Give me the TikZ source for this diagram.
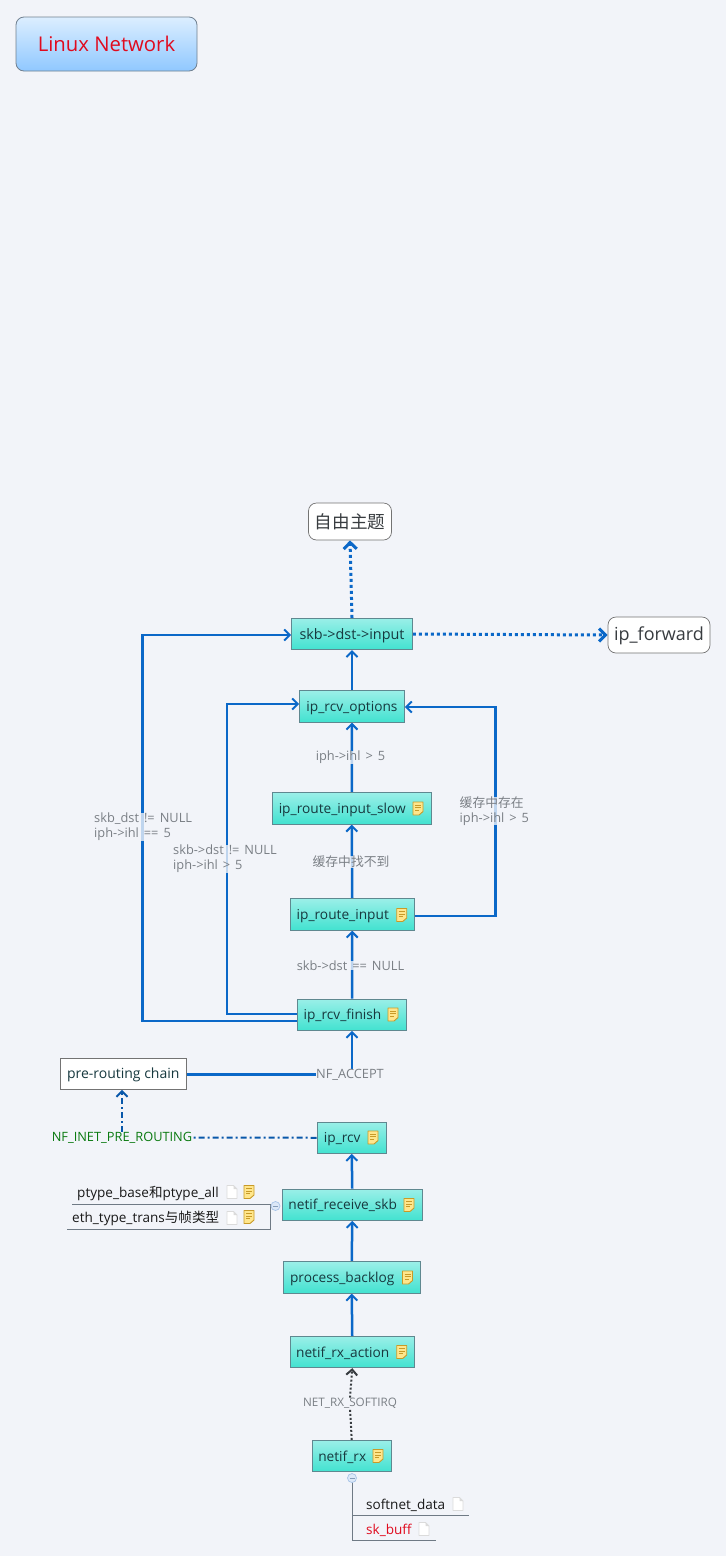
\documentclass[tikz,border=0pt]{standalone}
\usepackage{fontspec}
\setmainfont{Open Sans}
\newfontfamily\cjk{Noto Sans CJK SC}
\newfontfamily\labf[WordSpace=1.5]{Open Sans}
\usetikzlibrary{arrows.meta,backgrounds}
\definecolor{bgc}{HTML}{F2F4F9}
\definecolor{flow}{HTML}{0B68C8}
\definecolor{edgec}{HTML}{5F8890}
\definecolor{txt}{HTML}{17393F}
\definecolor{lab}{HTML}{7A7F85}
\definecolor{dark}{HTML}{383C40}
\definecolor{ruleg}{HTML}{6F7A85}
\definecolor{nfgreen}{HTML}{0A7A10}
\definecolor{redt}{HTML}{E00A1E}
\definecolor{teala}{HTML}{9AEFE8}
\definecolor{tealc}{HTML}{42E2D0}
\definecolor{titlea}{HTML}{DCEEFF}
\definecolor{titleb}{HTML}{90C8FF}
\definecolor{titlee}{HTML}{708090}
\definecolor{notef}{HTML}{FFE68C}
\definecolor{noted}{HTML}{C89A28}
\definecolor{minusf}{HTML}{DCE8F8}
\definecolor{minusd}{HTML}{A8C4E8}
\tikzset{
  topic/.style={draw=edgec,line width=.8pt,top color=teala,bottom color=tealc,rectangle,inner sep=0pt,text=txt,font=\fontsize{13.7}{16}\selectfont,minimum height=31.5pt,text height=11.5pt,text depth=1.5pt},
  free/.style={draw=black!55,line width=.7pt,fill=white,rounded corners=8pt,inner sep=0pt,text=dark},
  lbl/.style={fill=bgc,fill opacity=.78,text opacity=1,text=lab,inner sep=0pt,font=\labf\fontsize{12.8}{15}\selectfont,align=left},
  subt/.style={inner sep=0pt,text=black!90,font=\fontsize{13.55}{16}\selectfont,anchor=base west},
  flowl/.style={draw=flow,line width=2.5pt,line join=miter},
  arr/.style={-{Straight Barb[length=5.5pt,width=11pt,line width=2pt]}},
  arrb/.style={-{Straight Barb[length=6.5pt,width=13pt,line width=3pt]}},
  doted/.style={draw=flow,line width=3pt,dash pattern=on 3pt off 3pt},
  dashdot/.style={draw=flow!85!black,line width=2pt,dash pattern=on 6pt off 3pt on 2pt off 3pt},
  softl/.style={draw=dark,line width=2pt,dash pattern=on 2pt off 2pt},
  rulel/.style={draw=ruleg,line width=.9pt},
  noteicon/.pic={
    \filldraw[draw=noted,fill=notef,line width=.9pt,line join=round]
      (-5,-6.5) -- (5,-6.5) -- (5,3) -- (1,6.5) -- (-5,6.5) -- cycle;
    \draw[noted,line width=.8pt] (-3,-3.5) -- (3,-3.5) (-3,-1) -- (3,-1) (-3,1.5) -- (1,1.5);
  },
  docicon/.pic={
    \filldraw[draw=black!14,fill=white,line width=.9pt,line join=round]
      (-5,-6.5) -- (1.5,-6.5) -- (5,-3) -- (5,6.5) -- (-5,6.5) -- cycle;
    \fill[black!14] (1.5,-6.5) -- (5,-3) -- (1.5,-3) -- cycle;
  },
  minusicon/.pic={
    \filldraw[draw=minusd,fill=minusf,line width=.7pt] (0,0) circle (4.5);
    \draw[minusd!80!black,line width=.8pt] (-2.5,0) -- (2.5,0);
  }
}
\begin{document}
\begin{tikzpicture}[x=1pt,y=-1pt]
\useasboundingbox (0,0) rectangle (726,1556);
\begin{scope}[on background layer]
\fill[bgc] (0,0) rectangle (726,1556);
\end{scope}

% title
\node[draw=titlee,line width=.8pt,rounded corners=8pt,top color=titlea,bottom color=titleb,minimum width=181pt,minimum height=54pt,inner sep=0pt,text=redt,font=\fontsize{20.3}{22}\selectfont] (title) at (106.5,44) {Linux Network};

% free topics
\node[free,minimum width=83pt,minimum height=37pt,font=\fontsize{17.6}{20}\selectfont] (free1) at (350,521.5) {\cjk 自由主题};
\node[free,minimum width=102pt,minimum height=36pt,font=\fontsize{18}{20}\selectfont,text height=13pt,text depth=3pt] (forward) at (659,635) {ip\_forward};

% main topics
\node[topic,minimum width=121pt,font=\fontsize{14.4}{16}\selectfont] (input) at (352,634) {skb->dst->input};
\node[topic,minimum width=105pt] (options) at (352,706.5) {ip\_rcv\_options};
\node[topic,minimum width=159.5pt] (slow) at (351.75,808.5) {ip\_route\_input\_slow\kern19pt};
\node[topic,minimum width=124.5pt] (route) at (352.25,914.5) {ip\_route\_input\kern19pt};
\node[topic,minimum width=109pt] (finish) at (352,1014.75) {ip\_rcv\_finish\kern19pt};
\node[draw=black!55,line width=.8pt,fill=white,inner sep=0pt,text=txt,font=\fontsize{14}{16}\selectfont,minimum width=126.5pt,minimum height=31.5pt,text height=11.5pt,text depth=1.5pt] (chain) at (123.25,1073.75) {pre-routing chain};
\node[topic,minimum width=69.5pt] (rcv) at (351.75,1137.75) {ip\_rcv\kern19pt};
\node[topic,minimum width=140.5pt] (receive) at (352.25,1204.75) {netif\_receive\_skb\kern19pt};
\node[topic,minimum width=137.5pt] (backlog) at (351.75,1277.5) {process\_backlog\kern19pt};
\node[topic,minimum width=124.5pt] (action) at (352.25,1352) {netif\_rx\_action\kern19pt};
\node[topic,minimum width=79.5pt] (rx) at (351.75,1456) {netif\_rx\kern19pt};

% note icons
\foreach \nx/\ny in {418/808.5,401.7/915,393/1014.5,373/1137.5,409/1205,407.5/1277.5,401.7/1352,378/1456,249/1192,249/1217}
  \pic at (\nx,\ny) {noteicon};
\foreach \nx/\ny in {232/1192,232/1218,458/1504,424/1529}
  \pic at (\nx,\ny) {docicon};

% labels
\node[lbl] (l1) at (350.5,757.5) {iph->ihl > 5};
\node[lbl] (l2) at (351,862) {\cjk 缓存中找不到};
\node[lbl] (l3) at (350.5,965.5) {skb->dst == NULL};
\node[lbl,anchor=west] (l4) at (94,827) {skb\_dst != NULL\\iph->ihl == 5};
\node[lbl,anchor=west] (l5) at (173,859) {skb->dst != NULL\\iph->ihl > 5};
\node[lbl,anchor=west] (l6) at (459.5,811) {{\cjk 缓存中存在}\\iph->ihl > 5};
\node[lbl,fill=none] (accept) at (350,1074.5) {NF\_ACCEPT};
\node[lbl,fill=none,text=nfgreen] (prer) at (122,1137.5) {NF\_INET\_PRE\_ROUTING};
\node[lbl,fill=none,font=\labf\fontsize{11.7}{15}\selectfont] (softirq) at (350,1403) {NET\_RX\_SOFTIRQ};

% sub topics
\node[subt] (ptype) at (77,1197) {ptype\_base{\cjk 和}ptype\_all};
\node[subt] (eth) at (72,1222) {eth\_type\_trans{\cjk 与帧类型}};
\node[subt] (softnet) at (366,1509) {softnet\_data};
\node[subt,text=redt] (skbuff) at (366,1534) {sk\_buff};

% helper points
\coordinate (a1) at (227,1014);
\coordinate (a2) at (227,704);
\coordinate (b1) at (142.5,1021);
\coordinate (b2) at (142.5,635);
\coordinate (c1) at (495.5,916);
\coordinate (c2) at (495.5,707);
\coordinate (ac) at (315.5,1074.7);
\coordinate (r1) at (72,1204.5);
\coordinate (r2) at (270,1204.5);
\coordinate (r3) at (270,1229);
\coordinate (r4) at (67,1229);
\coordinate (s1) at (352,1478);
\coordinate (s2) at (352,1515);
\coordinate (s3) at (469,1515);
\coordinate (s4) at (352,1540.5);
\coordinate (s5) at (436,1540.5);
\coordinate (m1) at (275.5,1206);

\begin{scope}[on background layer]
\draw[flowl,arr] (options.north) -- (input.south);
\draw[flowl,arr] (slow.north) -- (options.south);
\draw[flowl,arr] (route.north) -- (slow.south);
\draw[flowl,arr] (finish.north) -- (route.south);
\draw[flowl,arr] (accept.north -| finish.south) -- (finish.south);
\draw[flowl] (chain.east |- ac) -- (ac);
\draw[flowl,arr] (finish.west |- a1) -- (a1) -- (a2) -- (options.west |- a2);
\draw[flowl,arr] (finish.west |- b1) -- (b1) -- (b2) -- (input.west |- b2);
\draw[flowl,arr] (route.east |- c1) -- (c1) -- (c2) -- (options.east |- c2);
\draw[flowl,arr] (receive.north) -- (rcv.south);
\draw[flowl,arr] (backlog.north) -- (receive.south);
\draw[flowl,arr] (action.north) -- (backlog.south);
\draw[doted,arrb] (input.north) -- (free1.south);
\draw[doted,arrb] (input.east) -- (forward.west);
\draw[dashdot] (rcv.west) -- (prer.east);
\draw[dashdot,arr] (prer.north) -- (chain.south -| prer.north);
\draw[softl,arr] (softirq.north) -- (action.south);
\draw[softl] (rx.north) -- (softirq.south);
\draw[rulel] (r1) -- (r2) -- (r3) -- (r4);
\draw[rulel] (s1) -- (s4) -- (s5);
\draw[rulel] (s2) -- (s3);
\end{scope}
\pic at (m1) {minusicon};
\pic at (s1) {minusicon};
\end{tikzpicture}
\end{document}
